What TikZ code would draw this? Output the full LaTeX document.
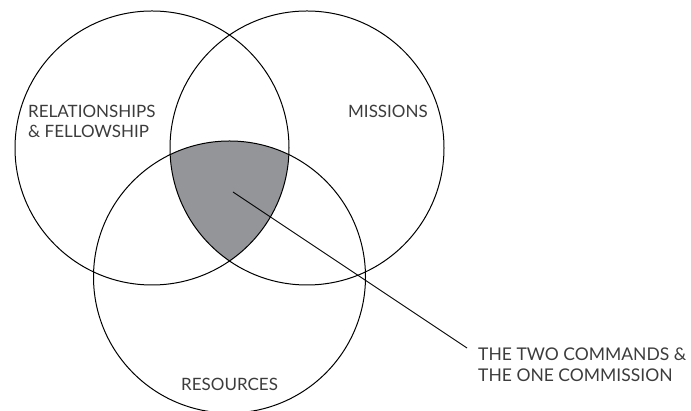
\documentclass[tikz,border=0pt]{standalone}
\usepackage{fontspec}
\setmainfont{Lato}
\definecolor{coregray}{HTML}{939598}
\definecolor{textgray}{HTML}{3C3C3C}

\begin{document}
\begin{tikzpicture}[x=1pt, y=1pt,
    ring/.style={draw=black, line width=1pt},
    lbl/.style={text=textgray, inner sep=0pt, font=\fontsize{17}{20}\selectfont, align=left}]
            \useasboundingbox (0,0) rectangle (691,411);
            \coordinate (rel) at (152,263);
            \coordinate (mis) at (307,263);
            \coordinate (res) at (229.5,134);
            % shaded core where all three meet
            \begin{scope}
                \clip (rel) circle (137pt);
                \clip (mis) circle (137pt);
                \fill[coregray] (res) circle (136pt);
            \end{scope}
            \draw[ring] (rel) circle (137pt);
            \draw[ring] (mis) circle (137pt);
            \draw[ring] (res) circle (136pt);
            \node[lbl, anchor=north west] (relText) at (28,306) {RELATIONSHIPS\\\& FELLOWSHIP};
            \node[lbl, anchor=base west] (misText) at (348,293) {MISSIONS};
            \node[lbl, anchor=base west] (resText) at (181,20) {RESOURCES};
            \node[lbl, anchor=north west, font=\fontsize{17.5}{21}\selectfont] (cmdText) at (478,63) {THE TWO COMMANDS \&\\THE ONE COMMISSION};
            \coordinate (core) at (233,219);
            \draw[line width=0.9pt] (core) -- ([xshift=-11pt]cmdText.north west);
        \end{tikzpicture}
\end{document}
